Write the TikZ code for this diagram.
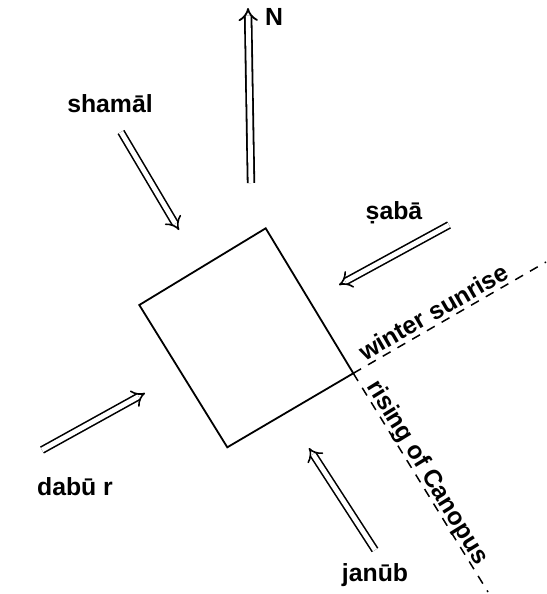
\documentclass[tikz,border=0pt]{standalone}
\usepackage{fontspec}
\setsansfont{Liberation Sans}
\usetikzlibrary{arrows.meta}

\begin{document}
\begin{tikzpicture}[x=0.5pt,y=-0.5pt,
  wind/.style={double,double distance=2.4pt,line width=0.8pt,-{Implies[scale=1.25]}},
  windname/.style={font=\sffamily\bfseries\fontsize{12.4}{14}\selectfont},
  horizon/.style={dashed,dash pattern=on 4.5pt off 4pt,line width=0.75pt},
  horizonname/.style={windname,sloped,text depth=0pt,inner sep=0pt,above=1.8pt}]
  \useasboundingbox (0,0) rectangle (546,594);
  \coordinate (top) at (265.7,228.3);
  \coordinate (left) at (139.3,305);
  \coordinate (bottom) at (227.3,447.3);
  \coordinate (right) at (353.3,373.3);
  \draw[line width=0.9pt] (top) -- (left) -- (bottom) -- (right) -- cycle;
  \coordinate (sunrise) at (546,262);
  \coordinate (canopus) at (488,592);
  \draw[horizon] (right) -- node[horizonname,pos=0.45] {winter sunrise} (sunrise);
  \draw[horizon] (right) -- node[horizonname,pos=0.48] {rising of Canopus} (canopus);
  \draw[wind,line width=0.9pt] (251,183) coordinate (n tail) -- (248,8) coordinate (n tip);
  \node[windname,anchor=west] (north) at (258,17) {N};
  \node[windname] (shamal) at (110,104) {shamāl};
  \draw[wind] (121,132) coordinate (shamal tail) -- (179,230) coordinate (shamal tip);
  \node[windname] (saba) at (394,213) {ṣabā};
  \draw[wind] (449,225) coordinate (saba tail) -- (339,285) coordinate (saba tip);
  \node[windname] (dabur) at (75,487) {dabū r};
  \draw[wind] (42,450) coordinate (dabur tail) -- (145,393) coordinate (dabur tip);
  \node[windname] (janub) at (375,575) {janūb};
  \draw[wind] (375,550) coordinate (janub tail) -- (309,448) coordinate (janub tip);
\end{tikzpicture}
\end{document}
